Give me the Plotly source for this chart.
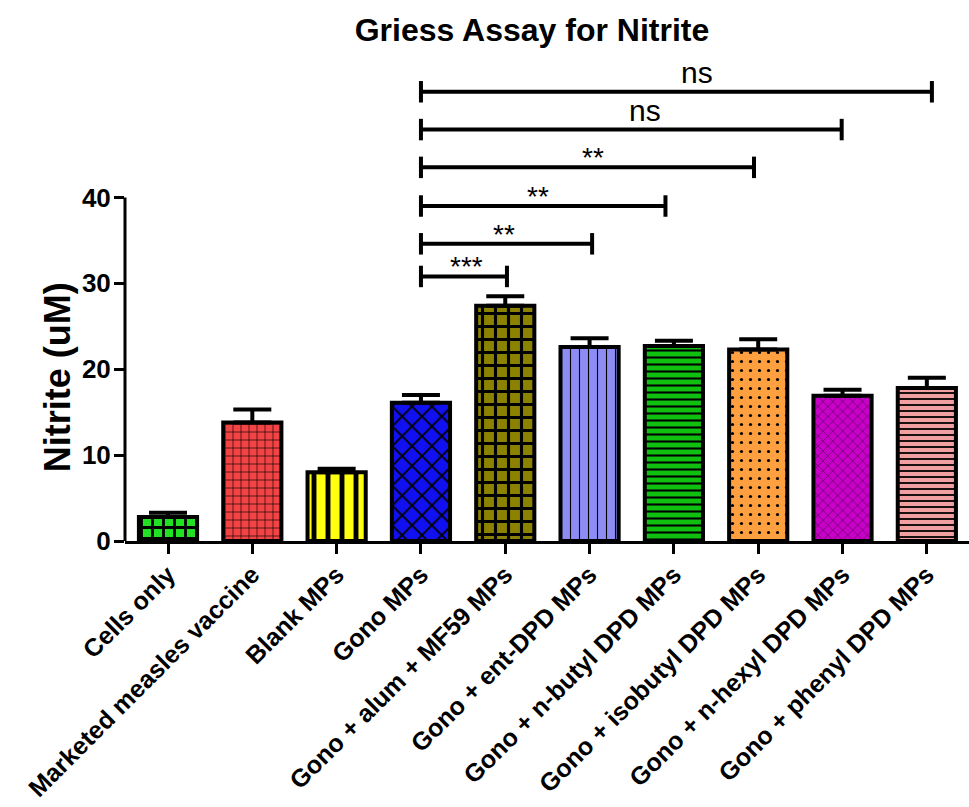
import plotly.graph_objects as go

# Groups and measured nitrite (mean and SD, uM)
groups = [
    "Cells only",
    "Marketed measles vaccine",
    "Blank MPs",
    "Gono MPs",
    "Gono + alum + MF59 MPs",
    "Gono + ent-DPD MPs",
    "Gono + n-butyl DPD MPs",
    "Gono + isobutyl DPD MPs",
    "Gono + n-hexyl DPD MPs",
    "Gono + phenyl DPD MPs",
]
nitrite_mean = [2.8, 13.8, 8.0, 16.1, 27.4, 22.6, 22.7, 22.3, 16.9, 17.8]
nitrite_sd = [0.5, 1.5, 0.4, 0.9, 1.1, 1.0, 0.6, 1.2, 0.7, 1.2]

# Fill colours and hatch patterns for each bar
fill_colors = ["#22e022", "#f24444", "#ffff10", "#1010f0", "#8a8200",
               "#8c8cf4", "#10c010", "#ffa040", "#c800c8", "#f0a0a0"]
hatch_shapes = ["+", "+", "|", "x", "+", "|", "-", ".", "x", "-"]
hatch_sizes = [11, 8, 14, 14, 13, 9, 7, 9, 7, 6]
hatch_solidity = [0.45, 0.15, 0.35, 0.25, 0.42, 0.12, 0.3, 0.1, 0.1, 0.3]

# Significance comparisons against Gono MPs
sig_start = [3, 3, 3, 3, 3, 3]
sig_end = [4.02, 5.03, 5.9, 6.95, 7.99, 9.06]
sig_level = [30.8, 34.6, 39.0, 43.5, 47.9, 52.3]
sig_text = ["***", "**", "**", "**", "ns", "ns"]
sig_text_x = [3.54, 3.99, 4.39, 5.04, 5.66, 6.27]

y_ticks = [0, 10, 20, 30, 40]

FONT = "Liberation Sans, Arial, sans-serif"

fig = go.Figure()

# One trace per group so each bar keeps its own fill behind the black hatch
for i, name in enumerate(groups):
    fig.add_trace(go.Bar(
        x=[i],
        y=[nitrite_mean[i]],
        width=0.69,
        name=name,
        marker=dict(
            color=fill_colors[i],
            line=dict(color="black", width=4),
            pattern=dict(
                shape=hatch_shapes[i],
                bgcolor=fill_colors[i],
                fgcolor="black",
                fgopacity=1,
                size=hatch_sizes[i],
                solidity=hatch_solidity[i],
                fillmode="replace",
            ),
        ),
        error_y=dict(
            type="data",
            symmetric=False,
            array=[nitrite_sd[i]],
            arrayminus=[0],
            color="black",
            thickness=4,
            width=19,
        ),
        showlegend=False,
    ))

# Comparison brackets with end ticks
tick_half = 1.25
bx, by = [], []
for x0, x1, lvl in zip(sig_start, sig_end, sig_level):
    bx += [x0, x0, None, x0, x1, None, x1, x1, None]
    by += [lvl - tick_half, lvl + tick_half, None, lvl, lvl, None,
           lvl - tick_half, lvl + tick_half, None]
fig.add_trace(go.Scatter(
    x=bx, y=by, mode="lines",
    line=dict(color="black", width=4),
    hoverinfo="skip", showlegend=False,
))

for tx, lvl, label in zip(sig_text_x, sig_level, sig_text):
    is_ns = label == "ns"
    fig.add_annotation(
        x=tx, y=lvl, xref="x", yref="y",
        text=label, showarrow=False,
        xanchor="center", yanchor="bottom",
        yshift=1 if is_ns else -8,
        font=dict(family=FONT, size=30 if is_ns else 28, color="black"),
    )

# Y axis line only spans the tick range
fig.add_shape(type="line", xref="paper", yref="y",
              x0=0, x1=0, y0=0, y1=max(y_ticks),
              line=dict(color="black", width=3))

fig.add_annotation(
    x=-0.079, y=19.1, xref="paper", yref="y",
    text="<b>Nitrite (uM)</b>", showarrow=False, textangle=-90,
    xanchor="center", yanchor="middle",
    font=dict(family=FONT, size=36, color="black"),
)

fig.update_layout(
    width=969, height=807,
    margin=dict(l=125, r=0, t=60, b=266),
    paper_bgcolor="white", plot_bgcolor="white",
    barmode="overlay",
    title=dict(
        text="<b>Griess Assay for Nitrite</b>",
        x=0.549, y=0.963, xanchor="center", yanchor="middle",
        font=dict(family=FONT, size=32, color="black"),
    ),
)

fig.update_xaxes(
    range=[-0.51, 9.5],
    tickmode="array",
    tickvals=list(range(len(groups))),
    ticktext=[f"<b>{g}</b>" for g in groups],
    tickangle=-45,
    tickfont=dict(family=FONT, size=25, color="black"),
    ticks="outside", ticklen=10, tickwidth=3, tickcolor="black",
    ticklabelstandoff=-4,
    showline=True, linewidth=3, linecolor="black",
    showgrid=False, zeroline=False, automargin=False,
)

fig.update_yaxes(
    range=[0, 56],
    tickmode="array",
    tickvals=y_ticks,
    ticktext=[f"<b>{t}</b>" for t in y_ticks],
    tickfont=dict(family=FONT, size=26, color="black"),
    ticks="outside", ticklen=10, tickwidth=3, tickcolor="black",
    ticklabelstandoff=-2,
    showline=False, showgrid=False, zeroline=False, automargin=False,
)

fig.write_html("out.html")
